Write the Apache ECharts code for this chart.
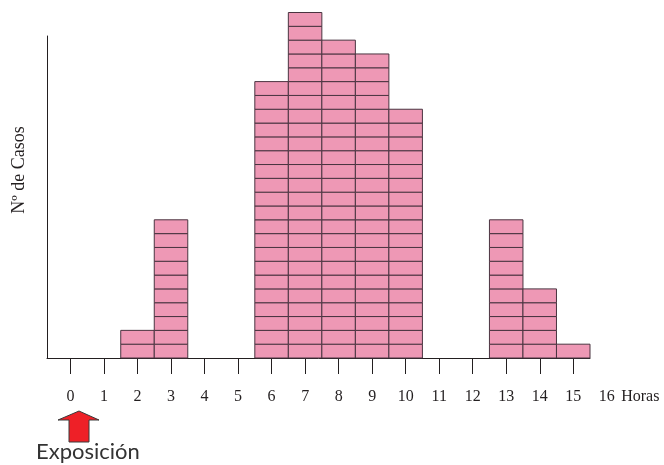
<!DOCTYPE html>
<html>
<head>
<meta charset="utf-8">
<script src="https://cdn.jsdelivr.net/npm/echarts@6/dist/echarts.min.js"></script>
<style>
  html, body { margin: 0; padding: 0; background: #ffffff; }
  #chart { width: 664px; height: 465px; }
</style>
</head>
<body>
<div id="chart"></div>
<script>
// Data (one box = one case)
const hours = [2, 3, 6, 7, 8, 9, 10, 13, 14, 15];
const cases = [2, 10, 20, 25, 23, 22, 18, 10, 5, 1];
const tickLabels = ['0','1','2','3','4','5','6','7','8','9','10','11','12','13','14','15','16','Horas'];
const lastTickIndex = 15;

const chart = echarts.init(document.getElementById('chart'), null, { renderer: 'canvas' });

const boxData = hours.map((h, i) => [h, cases[i]]);

function renderBoxes(params, api) {
  const h = api.value(0);
  const n = api.value(1);
  const base = api.coord([h, 0]);
  const unit = api.size([1, 1]);
  const w = unit[0];
  const children = [];
  for (let k = 0; k < n; k++) {
    children.push({
      type: 'rect',
      shape: { x: base[0] - w / 2, y: base[1] - (k + 1) * unit[1], width: w, height: unit[1] },
      style: { fill: '#EE98B5', stroke: '#4a3440', lineWidth: 1 }
    });
  }
  return { type: 'group', children: children };
}

const option = {
  animation: false,
  backgroundColor: '#ffffff',
  grid: [
    { left: 47, right: 74, top: 36, bottom: 107 },
    { left: 53.74, right: 6.9, top: 36, bottom: 107 }
  ],
  xAxis: [
    {
      type: 'value', gridIndex: 0, min: -0.7, max: 15.5,
      axisLine: { show: true, onZero: false, lineStyle: { color: '#231F20', width: 1 } },
      axisTick: { show: false }, axisLabel: { show: false }, splitLine: { show: false }
    },
    {
      type: 'category', gridIndex: 1, data: tickLabels, boundaryGap: true,
      axisLine: { show: false },
      axisTick: {
        show: true, alignWithLabel: true, length: 16, inside: false,
        interval: (idx) => idx <= lastTickIndex,
        lineStyle: { color: '#231F20', width: 1 }
      },
      axisLabel: {
        show: true, interval: 0, margin: 31,
        fontFamily: 'Liberation Serif', fontSize: 16, color: '#231F20'
      },
      splitLine: { show: false }
    }
  ],
  yAxis: [
    {
      type: 'value', gridIndex: 0, min: 0, max: 23.3,
      axisLine: { show: true, onZero: false, lineStyle: { color: '#231F20', width: 1 } },
      axisTick: { show: false }, axisLabel: { show: false }, splitLine: { show: false },
      name: 'Nº de Casos', nameLocation: 'middle', nameGap: 19,
      nameTextStyle: { fontFamily: 'Liberation Serif', fontSize: 18, color: '#231F20', padding: [0, 0, 0, 54] }
    },
    {
      type: 'value', gridIndex: 1, show: false
    }
  ],
  series: [
    {
      type: 'custom',
      xAxisIndex: 0,
      yAxisIndex: 0,
      clip: false,
      silent: true,
      renderItem: renderBoxes,
      encode: { x: 0, y: 1 },
      data: boxData
    }
  ],
  graphic: [
    {
      type: 'polygon',
      shape: { points: [[79, 411], [99, 420], [89, 420], [89, 442], [69, 442], [69, 420], [58, 420]] },
      style: { fill: '#EE2027', stroke: '#3a3a3a', lineWidth: 1 }
    },
    {
      type: 'text', left: 36, top: 441,
      style: { text: 'Exposición', font: '22px Lato', fill: '#333333' }
    }
  ]
};

chart.setOption(option);
</script>
</body>
</html>
